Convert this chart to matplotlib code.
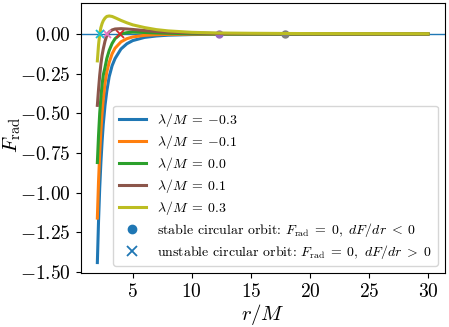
import numpy as np
import matplotlib
matplotlib.use("Agg")
from matplotlib import pyplot as plt

plt.rcParams['font.family'] = 'serif'
plt.rcParams['font.serif'] = ['cmr10']
plt.rcParams['mathtext.fontset'] = 'cm'
plt.rcParams['axes.formatter.use_mathtext'] = True

# radius grid (r/M) and radial force for each lambda/M
r = [2.0, 2.1, 2.2, 2.3, 2.4, 2.5, 2.65, 2.8, 3.0, 3.25, 3.5, 4.0, 4.5, 5.0,
     6.0, 7.0, 8.0, 10.0, 12.0, 15.0, 20.0, 25.0, 30.0]
lambdas = [-0.3, -0.1, 0.0, 0.1, 0.3]
f_m03 = [-1.44, -1.18, -0.97, -0.81, -0.68, -0.57, -0.45, -0.36, -0.27, -0.20,
         -0.155, -0.095, -0.062, -0.042, -0.022, -0.013, -0.008, -0.004,
         -0.0025, -0.0015, -0.001, -0.0007, -0.0005]
f_m01 = [-1.16, -0.93, -0.75, -0.61, -0.50, -0.41, -0.31, -0.24, -0.18, -0.125,
         -0.09, -0.05, -0.03, -0.019, -0.009, -0.005, -0.003, -0.0015,
         -0.001, -0.0008, -0.0006, -0.0005, -0.0004]
f_000 = [-0.81, -0.64, -0.50, -0.40, -0.32, -0.26, -0.21, -0.155, -0.105, -0.06,
         -0.03, 0.0, 0.008, 0.011, 0.009, 0.006, 0.004, 0.0012, 0.0,
         -0.0006, -0.0008, -0.0007, -0.0006]
f_p01 = [-0.45, -0.35, -0.26, -0.19, -0.135, -0.095, -0.045, -0.01, 0.012,
         0.025, 0.031, 0.033, 0.031, 0.028, 0.021, 0.015, 0.011, 0.006, 0.003,
         0.001, -0.0002, -0.0004, -0.0004]
f_p03 = [-0.17, -0.07, 0.0, 0.04, 0.065, 0.083, 0.10, 0.11, 0.113, 0.11, 0.102,
         0.085, 0.07, 0.057, 0.04, 0.027, 0.019, 0.01, 0.006, 0.004, 0.002,
         0.0015, 0.001]
forces = [f_m03, f_m01, f_000, f_p01, f_p03]

# circular orbits (r/M) per lambda: unstable, stable
unstable = [[], [], [3.9], [2.85], [2.2]]
stable = [[], [], [12.3], [17.9], []]

line_colors = ['C0', 'C1', 'C2', 'C5', 'C8']
unstable_colors = [None, None, 'C3', 'C6', 'C9']
stable_colors = [None, None, 'C4', 'C7', None]

fig = plt.figure(figsize=(4.49, 3.27), dpi=100)
ax = fig.add_axes([0.180, 0.165, 0.810, 0.826])

ax.axhline(0, color='C0', lw=1.0, zorder=1)

for i, lam in enumerate(lambdas):
    lam_txt = ('%.1f' % lam).replace('-', '{-}')
    ax.plot(r, forces[i], color=line_colors[i], lw=2.2,
            label=r'$\lambda/M\;=\;%s$' % lam_txt)
    if unstable[i]:
        ax.plot(unstable[i], [0] * len(unstable[i]), 'x', color=unstable_colors[i],
                ms=6, mew=1.3)
    if stable[i]:
        ax.plot(stable[i], [0] * len(stable[i]), 'o', color=stable_colors[i], ms=5)

ax.plot([], [], 'o', color='C0', ms=6,
        label=r'stable circular orbit: $F_{\rm rad}\;=\;0,\ dF/dr\;<\;0$')
ax.plot([], [], 'x', color='C0', ms=7, mew=1.3,
        label=r'unstable circular orbit: $F_{\rm rad}\;=\;0,\ dF/dr\;>\;0$')

ax.set_xlim(0.6, 31.4)
ax.set_ylim(-1.506, 0.195)
ax.set_yticks([0.0, -0.25, -0.5, -0.75, -1.0, -1.25, -1.5])
ax.set_xticks([5, 10, 15, 20, 25, 30])
ax.yaxis.set_major_formatter(matplotlib.ticker.FormatStrFormatter(r'$%.2f$'))
ax.xaxis.set_major_formatter(matplotlib.ticker.FormatStrFormatter(r'$%d$'))
ax.tick_params(labelsize=14)
ax.set_xlabel(r'$r/M$', fontsize=15, labelpad=1)
ax.set_ylabel(r'$F_{\rm rad}$', fontsize=15)
ax.yaxis.set_label_coords(-0.16, 0.51)
ax.legend(loc='lower right', fontsize=10, labelspacing=0.28)

fig.savefig('out.png', dpi=100)
